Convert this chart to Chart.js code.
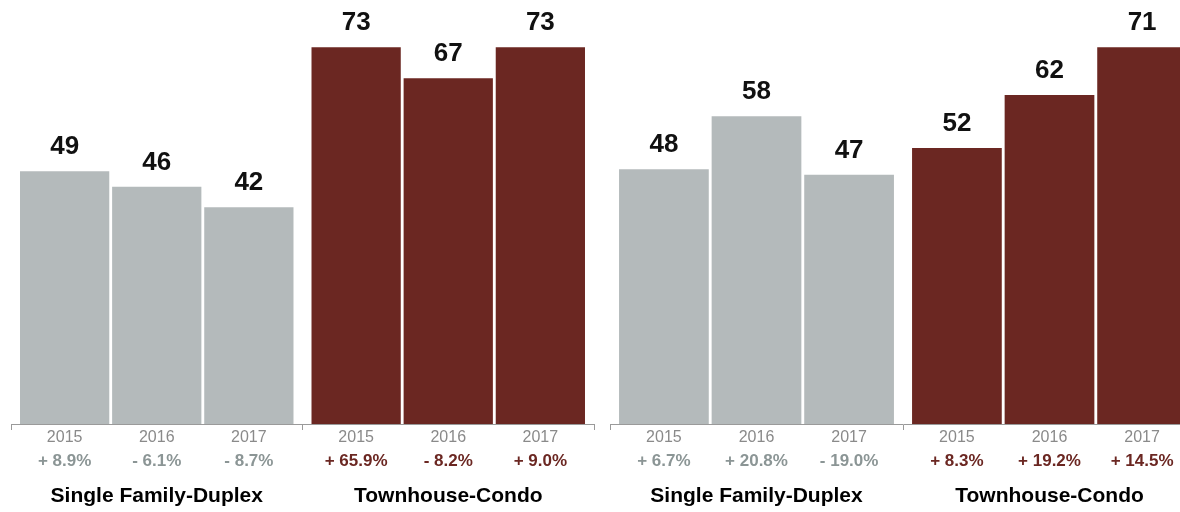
<!DOCTYPE html>
<html>
<head>
<meta charset="utf-8">
<script src="https://cdn.jsdelivr.net/npm/chart.js@4.4.1/dist/chart.umd.min.js"></script>
<style>
  html, body { margin: 0; padding: 0; background: #fff; }
  body { width: 1180px; height: 512px; overflow: hidden; position: relative; }
  canvas { position: absolute; top: 0; }
  #leftChart { left: 0; }
  #rightChart { left: 600px; }
</style>
</head>
<body>
<canvas id="leftChart" width="605" height="512"></canvas>
<canvas id="rightChart" width="606" height="512"></canvas>
<script>
'use strict';

const groups = ['Single Family-Duplex', 'Townhouse-Condo'];
const years = ['2015', '2016', '2017'];

const leftSingle = [49, 46, 42];
const leftTown = [73, 67, 73];
const leftSingleChange = ['+ 8.9%', '- 6.1%', '- 8.7%'];
const leftTownChange = ['+ 65.9%', '- 8.2%', '+ 9.0%'];

const rightSingle = [48, 58, 47];
const rightTown = [52, 62, 71];
const rightSingleChange = ['+ 6.7%', '+ 20.8%', '- 19.0%'];
const rightTownChange = ['+ 8.3%', '+ 19.2%', '+ 14.5%'];

const FONT = '"Liberation Sans", Arial, Helvetica, sans-serif';
const GRAY = '#b4babb';
const RED = '#6b2722';
const GRAY_TEXT = '#8b9595';

function _labelPlugin(changes) {
  return {
    id: 'barLabels',
    afterDraw(chart) {
      let ctx = chart.ctx,
        xScale = chart.scales.x;

      ctx.save();
      ctx.textAlign = 'center';

      chart.data.datasets.forEach((ds, i) => {
        chart.getDatasetMeta(i).data.forEach((bar, j) => {
          // value above the bar
          ctx.fillStyle = '#111';
          ctx.font = 'bold 26px ' + FONT;
          ctx.textBaseline = 'alphabetic';
          ctx.fillText(String(ds.data[j]), bar.x, bar.y - 17);

          // year under the axis
          ctx.textBaseline = 'middle';
          ctx.fillStyle = '#8a8a8a';
          ctx.font = '16px ' + FONT;
          ctx.fillText(years[i], bar.x, 438);

          // year-over-year change
          ctx.fillStyle = j === 0 ? GRAY_TEXT : RED;
          ctx.font = 'bold 17px ' + FONT;
          ctx.fillText(changes[j][i], bar.x, 461);
        });
      });

      ctx.fillStyle = '#000';
      ctx.font = 'bold 21px ' + FONT;
      groups.forEach((g, j) => {
        ctx.fillText(g, xScale.getPixelForValue(j), 496);
      });
      ctx.restore();
    }
  };
}

function _buildPanel(id, single, town, singleChange, townChange, padLeft) {
  let ctx = document.getElementById(id),
    top = Math.max(...single, ...town);

  new Chart(ctx, {
    type: 'bar',
    data: {
      labels: groups,
      datasets: years.map((y, i) => ({
        label: y,
        data: [single[i], town[i]],
        backgroundColor: [GRAY, RED],
        borderWidth: 0,
        categoryPercentage: 0.948,
        barPercentage: 0.969
      }))
    },
    options: {
      responsive: false,
      animation: false,
      layout: {
        padding: { left: padLeft, right: padLeft, top: 0, bottom: 82 }
      },
      plugins: {
        legend: { display: false },
        tooltip: { enabled: false }
      },
      scales: {
        x: {
          offset: true,
          ticks: { display: false },
          grid: {
            offset: true,
            drawOnChartArea: false,
            drawTicks: true,
            tickLength: 6,
            color: '#9a9a9a'
          },
          border: { display: true, color: '#9a9a9a', width: 1 }
        },
        y: {
          display: false,
          min: 0,
          max: top * 1.1256
        }
      }
    },
    plugins: [_labelPlugin([singleChange, townChange])]
  });
}

function buildCharts() {
  _buildPanel('leftChart', leftSingle, leftTown, leftSingleChange, leftTownChange, 11);
  _buildPanel('rightChart', rightSingle, rightTown, rightSingleChange, rightTownChange, 10);
}

buildCharts();
</script>
</body>
</html>
